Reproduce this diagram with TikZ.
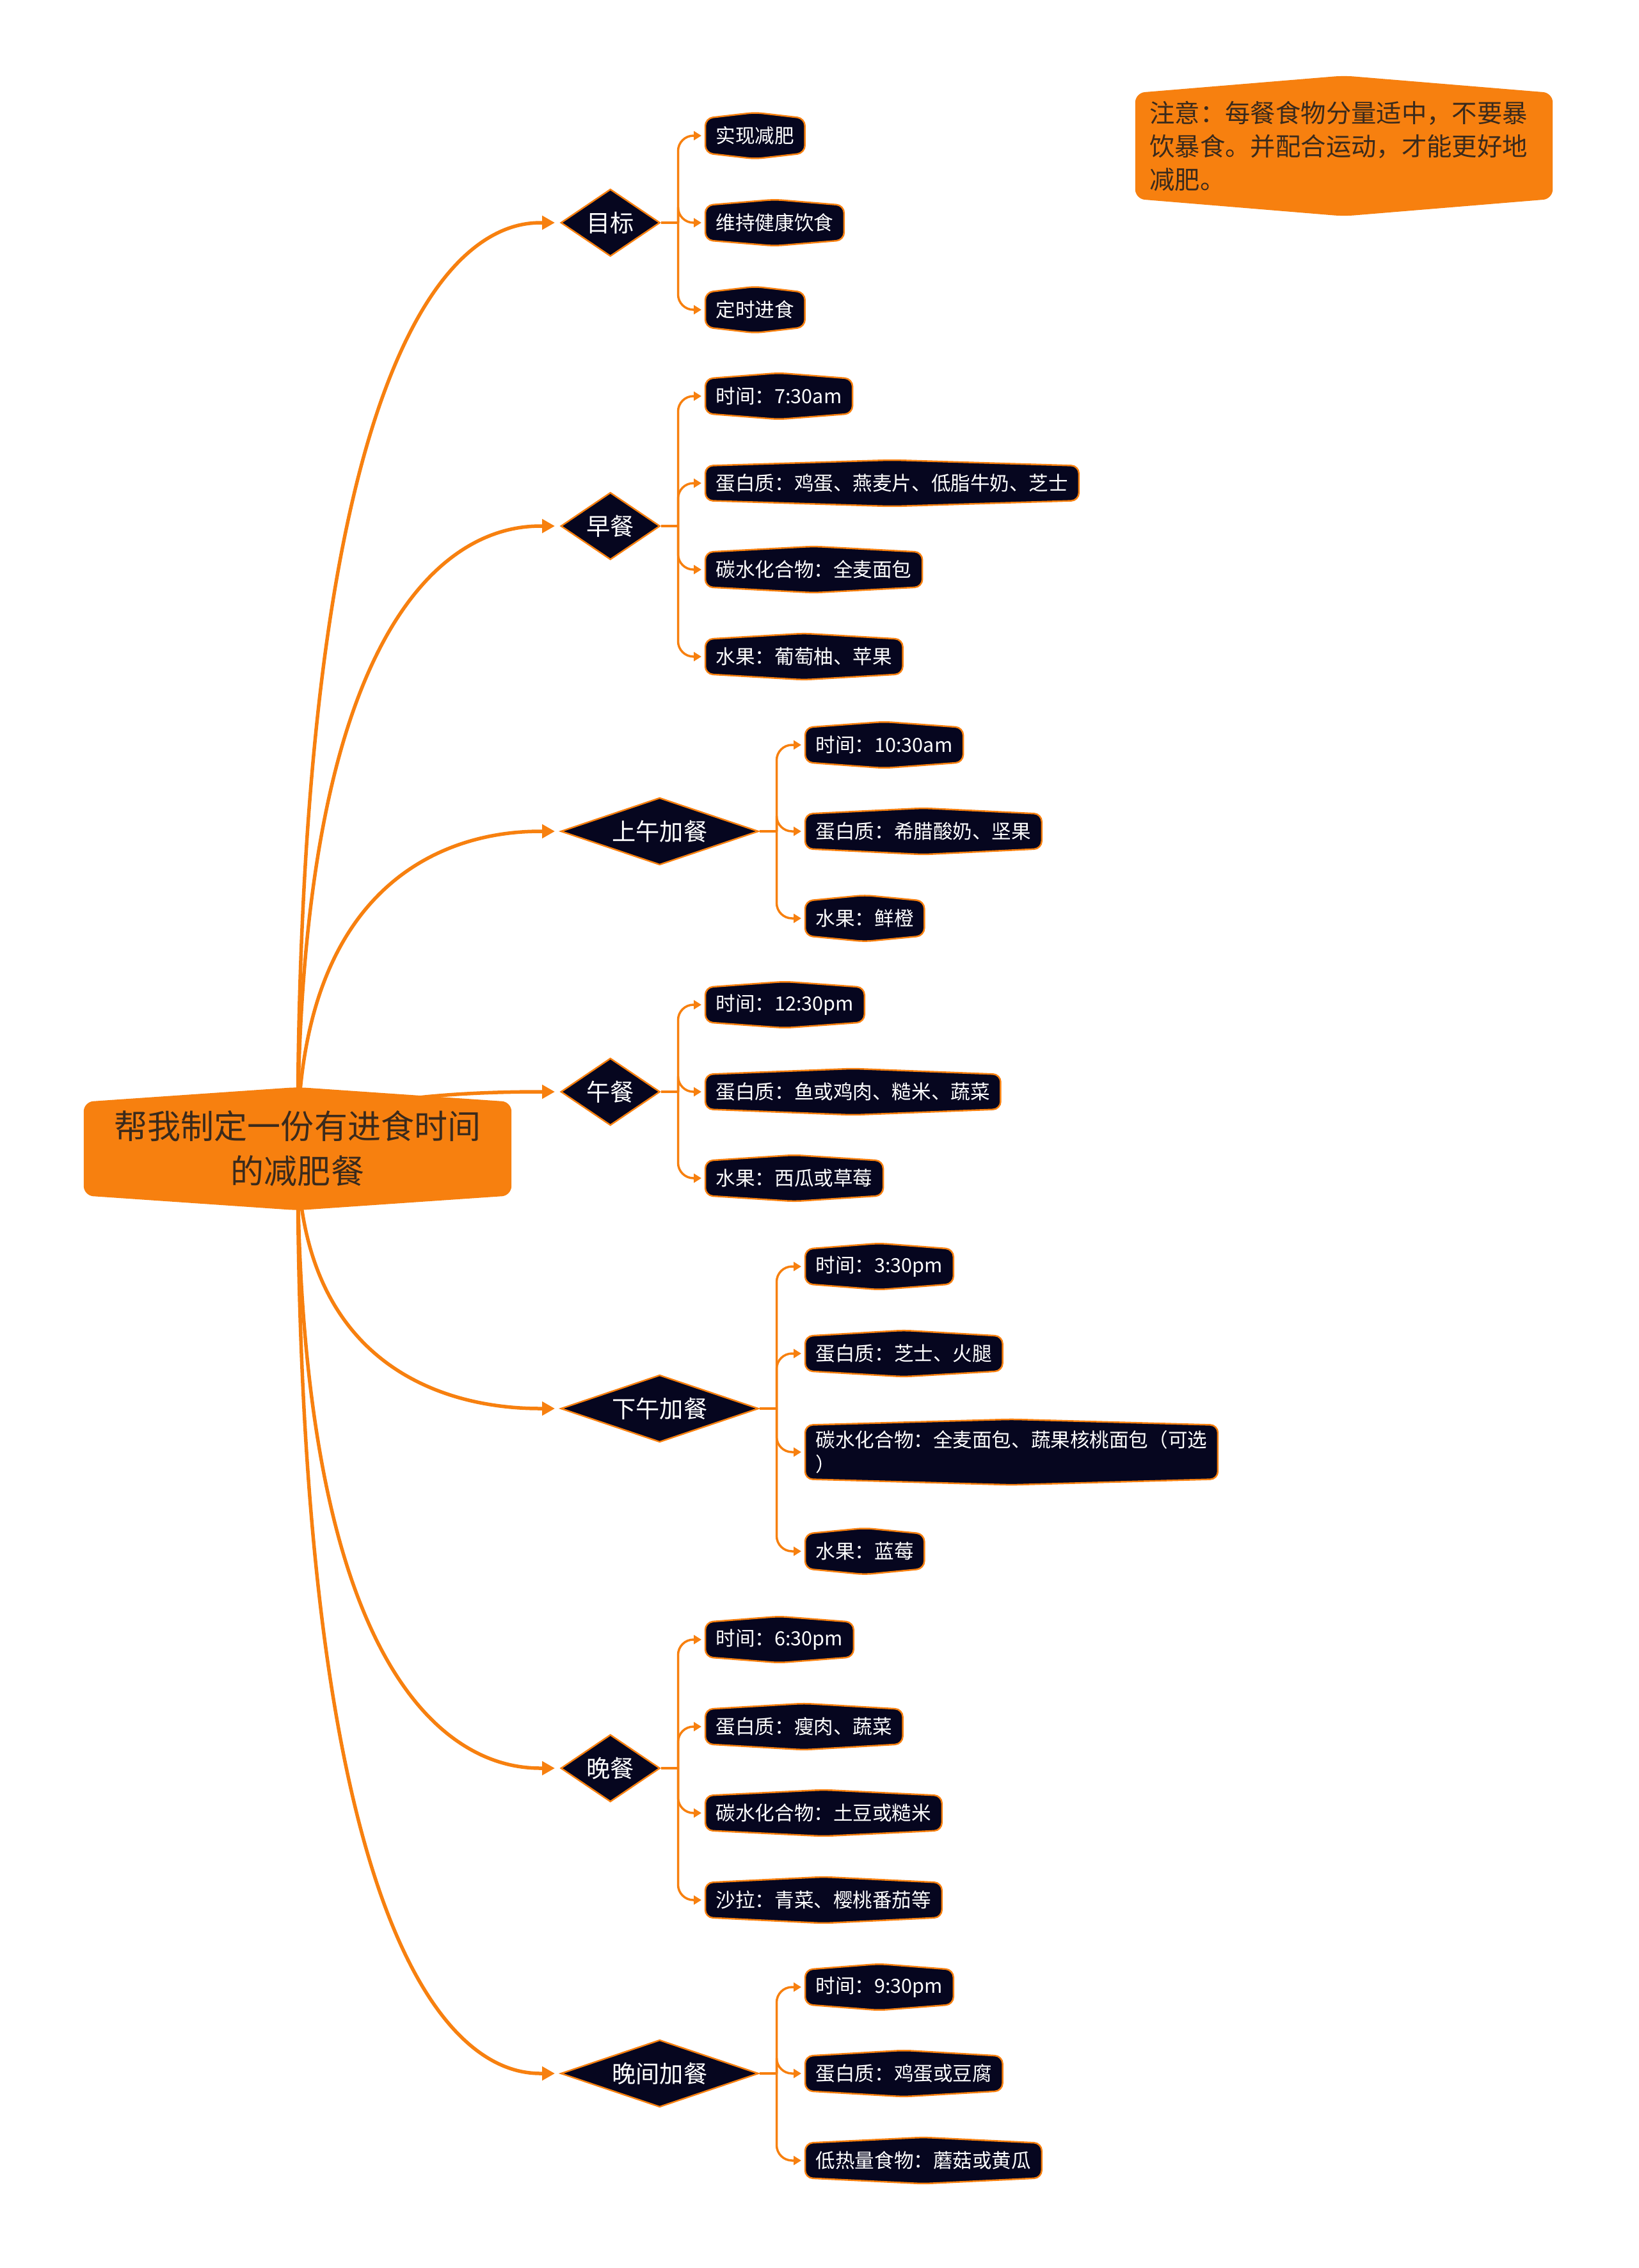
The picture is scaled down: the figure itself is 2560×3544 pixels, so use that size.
\documentclass[tikz,border=0pt]{standalone}
\usepackage{fontspec}
\setmainfont{Noto Sans CJK SC}
\usetikzlibrary{shapes.geometric, arrows.meta, calc, backgrounds}
\definecolor{mmorange}{HTML}{F7800F}
\definecolor{mmnavy}{HTML}{06061F}
\definecolor{mmbrown}{HTML}{3A2A1C}
% box with a shallow peak on top and bottom
\newcommand{\bowbox}[3]{%
  \path[#3] ([yshift=#2]#1.north) -- (#1.north east) -- (#1.south east)
    -- ([yshift=-#2]#1.south) -- (#1.south west) -- (#1.north west) -- cycle;}
\newcommand{\rootlink}[1]{%
  \coordinate (k) at (root.center |- #1.west);
  \draw[rootedge] (root.center) .. controls (k) and ($(k)!0.8!(#1.west)$) .. (#1.west);}

\begin{document}
\begin{tikzpicture}[x=0.1mm, y=-0.1mm,
    root/.style={align=center, text=mmbrown, font=\fontsize{14.8pt}{19.9pt}\selectfont,
                 minimum width=66.7mm, minimum height=14.5mm, inner sep=0pt},
    note/.style={align=left, text=mmbrown, font=\fontsize{11.2pt}{14.8pt}\selectfont,
                 text width=60.7mm, inner xsep=2.2mm, minimum height=14mm},
    dia/.style={diamond, aspect=2.2, inner sep=0pt, fill=mmnavy, draw=mmorange,
                line width=0.25mm, text=white, font=\fontsize{10.6pt}{12pt}\selectfont,
                minimum width=15.5mm, minimum height=10.5mm, anchor=west},
    wdia/.style={dia, minimum width=30.9mm},
    leaf/.style={text=white, font=\fontsize{8.7pt}{10.8pt}\selectfont, align=left,
                 inner xsep=1.6mm, inner ysep=0.8mm, minimum height=5.3mm, anchor=west},
    bowleaf/.style={fill=mmnavy, draw=mmorange, line width=0.25mm, rounded corners=1.2mm},
    bowroot/.style={fill=mmorange, rounded corners=1.5mm},
    rootedge/.style={draw=mmorange, line width=0.55mm,
                     -{Triangle[length=2mm,width=2.1mm]}, shorten >=0.8mm},
    stub/.style={draw=mmorange, line width=0.35mm},
    branchedge/.style={stub, rounded corners=2.4mm,
                       -{Triangle[length=1.2mm,width=1.4mm]}, shorten >=0.6mm}]

    \useasboundingbox (0,0) rectangle (2560,3544);

    % --- Centre and note ---
    \node[root] (root) at (465,1795) {帮我制定一份有进食时间\\的减肥餐};
    \node[note] (note) at (2100,228)
      {注意：每餐食物分量适中，不要暴\\饮暴食。并配合运动，才能更好地\\减肥。};

    % --- Meals ---
    \node[dia]  (goal)    at (875,348)  {目标};
    \node[dia]  (bfast)   at (875,822)  {早餐};
    \node[wdia] (amsnack) at (875,1299) {上午加餐};
    \node[dia]  (lunch)   at (875,1706) {午餐};
    \node[wdia] (pmsnack) at (875,2201) {下午加餐};
    \node[dia]  (dinner)  at (875,2763) {晚餐};
    \node[wdia] (night)   at (875,3240) {晚间加餐};

    % --- Items ---
    \node[leaf] (g1) at (1102,212) {实现减肥};
    \node[leaf] (g2) at (1102,348) {维持健康饮食};
    \node[leaf] (g3) at (1102,484) {定时进食};

    \node[leaf] (b1) at (1102,619)  {时间：7:30am};
    \node[leaf] (b2) at (1102,755)  {蛋白质：鸡蛋、燕麦片、低脂牛奶、芝士};
    \node[leaf] (b3) at (1102,890)  {碳水化合物：全麦面包};
    \node[leaf] (b4) at (1102,1026) {水果：葡萄柚、苹果};

    \node[leaf] (a1) at (1258,1164) {时间：10:30am};
    \node[leaf] (a2) at (1258,1299) {蛋白质：希腊酸奶、坚果};
    \node[leaf] (a3) at (1258,1435) {水果：鲜橙};

    \node[leaf] (l1) at (1102,1570) {时间：12:30pm};
    \node[leaf] (l2) at (1102,1706) {蛋白质：鱼或鸡肉、糙米、蔬菜};
    \node[leaf] (l3) at (1102,1841) {水果：西瓜或草莓};

    \node[leaf] (p1) at (1258,1979) {时间：3:30pm};
    \node[leaf] (p2) at (1258,2115) {蛋白质：芝士、火腿};
    \node[leaf] (p3) at (1258,2269) {碳水化合物：全麦面包、蔬果核桃面包（可选\\）};
    \node[leaf] (p4) at (1258,2424) {水果：蓝莓};

    \node[leaf] (d1) at (1102,2562) {时间：6:30pm};
    \node[leaf] (d2) at (1102,2698) {蛋白质：瘦肉、蔬菜};
    \node[leaf] (d3) at (1102,2833) {碳水化合物：土豆或糙米};
    \node[leaf] (d4) at (1102,2969) {沙拉：青菜、樱桃番茄等};

    \node[leaf] (n1) at (1258,3105) {时间：9:30pm};
    \node[leaf] (n2) at (1258,3240) {蛋白质：鸡蛋或豆腐};
    \node[leaf] (n3) at (1258,3376) {低热量食物：蘑菇或黄瓜};

    \begin{scope}[on background layer]
      \fill[white] (0,0) rectangle (2560,3544);

      % --- Edges ---
      \foreach \m in {goal,bfast,amsnack,lunch,pmsnack,dinner,night} {
        \rootlink{\m}
        \coordinate (\m T) at ($(\m.east)+(2.7mm,0)$);
        \draw[stub] (\m.east) -- (\m T);
      }
      \foreach \c in {g1,g2,g3} {\draw[branchedge] (goalT) |- (\c.west);}
      \foreach \c in {b1,b2,b3,b4} {\draw[branchedge] (bfastT) |- (\c.west);}
      \foreach \c in {a1,a2,a3} {\draw[branchedge] (amsnackT) |- (\c.west);}
      \foreach \c in {l1,l2,l3} {\draw[branchedge] (lunchT) |- (\c.west);}
      \foreach \c in {p1,p2,p3,p4} {\draw[branchedge] (pmsnackT) |- (\c.west);}
      \foreach \c in {d1,d2,d3,d4} {\draw[branchedge] (dinnerT) |- (\c.west);}
      \foreach \c in {n1,n2,n3} {\draw[branchedge] (nightT) |- (\c.west);}

      % --- Box outlines ---
      \bowbox{root}{2.3mm}{bowroot}
      \bowbox{note}{2.7mm}{bowroot}
      \foreach \c in {g1,g2,g3,b1,b2,b3,b4,a1,a2,a3,l1,l2,l3,p1,p2,p3,p4,d1,d2,d3,d4,n1,n2,n3} {
        \bowbox{\c}{0.9mm}{bowleaf}
      }
    \end{scope}
  \end{tikzpicture}
\end{document}
